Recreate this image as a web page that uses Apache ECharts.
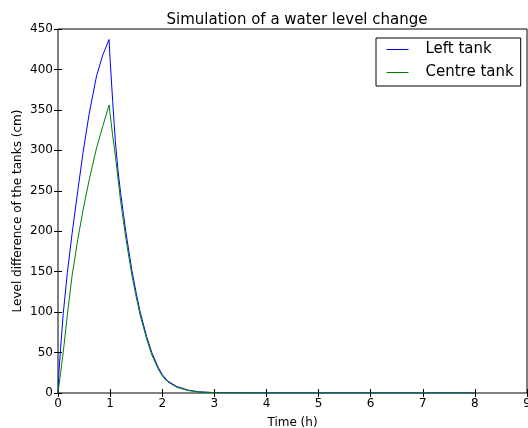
<!DOCTYPE html>
<html>
<head>
<meta charset="utf-8">
<script src="https://cdn.jsdelivr.net/npm/echarts@6/dist/echarts.min.js"></script>
<style>
  html, body { margin: 0; padding: 0; background: #fff; }
  #chart { width: 528px; height: 428px; }
</style>
</head>
<body>
<div id="chart"></div>
<script>
// time in hours
const timeH = [0, 0.02, 0.05, 0.1, 0.18, 0.27, 0.38, 0.48, 0.6, 0.74, 0.86, 0.98,
  1.0, 1.05, 1.1, 1.15, 1.2, 1.256, 1.3, 1.417, 1.5, 1.577, 1.7, 1.8, 1.92, 2.0,
  2.1, 2.28, 2.5, 2.7, 3.0, 3.5, 4, 5, 6, 7, 8]
// level difference (cm)
const leftTank = [0, 28, 55, 98, 149, 197, 250, 297, 346, 392, 418, 437,
  412, 360, 312, 276, 248, 221, 200, 152, 124, 100, 70, 50, 32, 23,
  15, 8, 3.5, 1.5, 0.5, 0.1, 0, 0, 0, 0, 0]
const centreTank = [0, 10, 25, 50, 97, 145, 190, 226, 264, 303, 330, 356,
  345, 318, 294, 266, 238, 212, 192, 146, 119, 96, 67, 47, 30, 21,
  14, 7, 3, 1.2, 0.4, 0.1, 0, 0, 0, 0, 0]

const xTicks = [0, 9, 1]
const yTicks = [0, 450, 50]

const font = 'DejaVu Sans'
const blue = '#0000ff'
const green = '#008000'

function pairs(xs, ys) {
  return xs.map((x, i) => [x, ys[i]])
}

const mirror = {
  axisLine: { show: false },
  axisTick: { show: true, inside: true, length: 4, lineStyle: { color: '#000' } },
  axisLabel: { show: false },
  splitLine: { show: false },
}

const option = {
  animation: false,
  title: {
    text: 'Simulation of a water level change',
    left: 292,
    top: 8,
    textAlign: 'center',
    textStyle: { fontFamily: font, fontSize: 15, fontWeight: 'normal', color: '#000' },
  },
  grid: {
    left: 58, right: 1, top: 29, bottom: 35,
    outerBoundsMode: 'none',
    containLabel: false,
    show: true, borderColor: '#000', borderWidth: 1, backgroundColor: '#fff',
  },
  legend: {
    orient: 'vertical',
    left: 376,
    top: 38,
    padding: [4, 7, 6, 10],
    itemWidth: 22,
    itemHeight: 14,
    itemGap: 8,
    borderColor: '#000',
    borderWidth: 1,
    backgroundColor: '#fff',
    itemStyle: { color: 'transparent', borderWidth: 0 },
    textStyle: { fontFamily: font, fontSize: 15, color: '#000', padding: [0, 0, 0, 12] },
    data: [
      { name: 'Left tank', lineStyle: { color: blue, width: 1 } },
      { name: 'Centre tank', lineStyle: { color: green, width: 1 } },
    ],
  },
  xAxis: [
    {
      type: 'value',
      min: xTicks[0], max: xTicks[1], interval: xTicks[2],
      name: 'Time (h)',
      nameLocation: 'middle',
      nameGap: 24,
      nameMoveOverlap: false,
      nameTextStyle: { fontFamily: font, fontSize: 12, color: '#000' },
      axisLine: { show: false },
      axisTick: { inside: true, length: 4, lineStyle: { color: '#000' } },
      axisLabel: { margin: 5, fontFamily: font, fontSize: 12, color: '#000', showMaxLabel: true },
      splitLine: { show: false },
    },
    Object.assign({ type: 'value', position: 'top', min: xTicks[0], max: xTicks[1], interval: xTicks[2] }, mirror),
  ],
  yAxis: [
    {
      type: 'value',
      min: yTicks[0], max: yTicks[1], interval: yTicks[2],
      name: 'Level difference of the tanks (cm)',
      nameLocation: 'middle',
      nameGap: 34,
      nameMoveOverlap: false,
      nameTextStyle: { fontFamily: font, fontSize: 12, color: '#000' },
      axisLine: { show: false },
      axisTick: { inside: true, length: 4, lineStyle: { color: '#000' } },
      axisLabel: { margin: 5, fontFamily: font, fontSize: 12, color: '#000' },
      splitLine: { show: false },
    },
    Object.assign({ type: 'value', position: 'right', min: yTicks[0], max: yTicks[1], interval: yTicks[2] }, mirror),
  ],
  series: [
    {
      name: 'Left tank',
      type: 'line',
      symbol: 'none',
      color: blue,
      lineStyle: { width: 1, color: blue },
      data: pairs(timeH, leftTank),
    },
    {
      name: 'Centre tank',
      type: 'line',
      symbol: 'none',
      color: green,
      lineStyle: { width: 1, color: green },
      data: pairs(timeH, centreTank),
    },
  ],
}

const myChart = echarts.init(document.getElementById('chart'))
myChart.setOption(option)
</script>
</body>
</html>
